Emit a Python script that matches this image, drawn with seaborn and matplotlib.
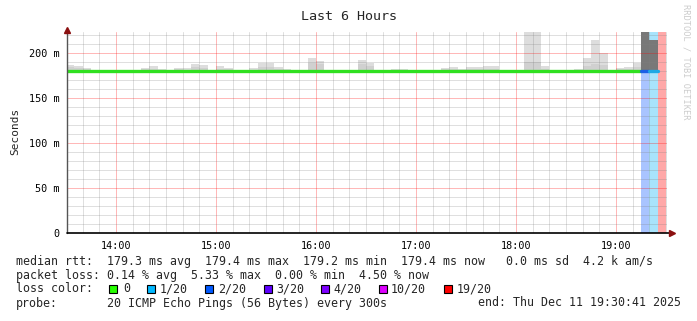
import numpy as np
import pandas as pd
import matplotlib
matplotlib.use("Agg")
import matplotlib.pyplot as plt
from matplotlib.patches import Rectangle
import seaborn as sns

# ---------------- data (5-minute bins starting 13:30) ----------------
bin_start_hours = [13.5 + i * 5 / 60 for i in range(72)]

smoke_hi = [186.7, 185, 183, 181, 181, 181, 181, 181, 180.5, 183,
            185, 182, 180.5, 183.3, 182.6, 187, 186, 180.5, 185, 183.3,
            180.5, 180.5, 182.6, 188.5, 188.5, 184.4, 182, 180.5, 180.5, 194.4,
            191, 180.5, 180.5, 180.5, 180.5, 192, 189, 180.5, 181, 182,
            182, 180.5, 180.5, 180.5, 180.5, 183, 184.4, 182, 184, 184,
            185, 185, 181, 181, 181, 230, 230, 185.5, 180.5, 180.5,
            180.5, 182, 194, 214, 200, 180.5, 183, 184, 189, np.nan,
            np.nan, np.nan]

smoke_mid = [184, 183, 181.5, 180.5, 180.5, 180.5, 180.5, 180.5, 180.5, 181.5,
             182.5, 181, 180.5, 181.5, 181, 184, 183.5, 180.5, 182.5, 181.5,
             180.5, 180.5, 181, 184.5, 184.5, 182, 181, 180.5, 180.5, 189,
             187.5, 180.5, 180.5, 180.5, 180.5, 187, 185.5, 180.5, 180.5, 181,
             181, 180.5, 180.5, 180.5, 180.5, 181.5, 182, 181, 181.5, 181.5,
             182, 182, 180.5, 180.5, 180.5, 190, 190, 182.5, 180.5, 180.5,
             180.5, 181, 185, 188, 186, 180.5, 181.5, 182, 184, np.nan,
             np.nan, np.nan]

dark_hi = [np.nan] * 69 + [230, 214.4, np.nan]

median_rtt = [179.3, 179.3, 179.3, 179.3, 179.2, 179.3, 179.3, 179.3, 179.3, 179.3,
              179.3, 179.3, 179.3, 179.3, 179.3, 179.3, 179.3, 179.3, 179.3, 179.3,
              179.3, 179.3, 179.3, 179.3, 179.4, 179.3, 179.3, 179.3, 179.3, 179.3,
              179.3, 179.3, 179.3, 179.3, 179.3, 179.3, 179.3, 179.3, 179.3, 179.3,
              179.3, 179.3, 179.3, 179.3, 179.3, 179.3, 179.3, 179.3, 179.3, 179.3,
              179.3, 179.3, 179.3, 179.3, 179.3, 179.3, 179.3, 179.3, 179.3, 179.3,
              179.3, 179.3, 179.3, 179.3, 179.3, 179.3, 179.3, 179.3, 179.3, 179.4,
              179.4, np.nan]

loss_count = [0] * 69 + [2, 1, 19]

loss_labels = ["0", "1/20", "2/20", "3/20", "4/20", "10/20", "19/20"]
loss_levels = [0, 1, 2, 3, 4, 10, 19]
loss_colors = ["#26ff00", "#00b8ff", "#0059ff", "#5e00ff", "#7e00ff", "#dd00ff", "#ff0000"]
loss_line_colors = {0: "#30e020", 1: "#1ea8e4", 2: "#1a5ee6"}
loss_bg_colors = {1: "#a8e4fc", 2: "#a9c4ff", 19: "#ffa8a8"}

xtick_hours = [14, 15, 16, 17, 18, 19]
xtick_labels = ["14:00", "15:00", "16:00", "17:00", "18:00", "19:00"]
ytick_values = [0, 50, 100, 150, 200]
ytick_labels = ["0", "50 m", "100 m", "150 m", "200 m"]

legend_line1 = "median rtt:  179.3 ms avg  179.4 ms max  179.2 ms min  179.4 ms now   0.0 ms sd  4.2 k am/s"
legend_line2 = "packet loss: 0.14 % avg  5.33 % max  0.00 % min  4.50 % now"
probe_text = "20 ICMP Echo Pings (56 Bytes) every 300s"
end_text = "end: Thu Dec 11 19:30:41 2025"

# ---------------- figure ----------------
sns.set_theme(style="white")
plt.rcParams["font.family"] = ["DejaVu Sans Mono", "DejaVu Sans"]

W, H = 697, 321
fig = plt.figure(figsize=(W / 100, H / 100), dpi=100)
fig.patch.set_facecolor("white")
ax_l, ax_r, ax_t, ax_b = 67, 667, 32, 233
ax = fig.add_axes([ax_l / W, 1 - ax_b / H, (ax_r - ax_l) / W, (ax_b - ax_t) / H])
ax.set_facecolor("white")

x_start = 13 + 30 / 60 + 41 / 3600
x_end = x_start + 6
ymax = 223
bw = 5 / 60

df = pd.DataFrame({"t": bin_start_hours, "hi": smoke_hi, "mid": smoke_mid,
                   "dark": dark_hi, "median": median_rtt, "loss": loss_count})

# loss background columns
for _, r in df[df["loss"] > 0].iterrows():
    ax.bar(r["t"], 400, bottom=0, width=bw, align="edge",
           color=loss_bg_colors[int(r["loss"])], linewidth=0, zorder=0.5)

# smoke (light and darker bands)
ok = df["hi"].notna()
ax.bar(df.loc[ok, "t"], df.loc[ok, "hi"] - df.loc[ok, "median"], bottom=df.loc[ok, "median"],
       width=bw, align="edge", color="#dddddd", linewidth=0, zorder=1)
ax.bar(df.loc[ok, "t"], df.loc[ok, "mid"] - df.loc[ok, "median"], bottom=df.loc[ok, "median"],
       width=bw, align="edge", color="#d0d0d0", linewidth=0, zorder=1.1)
okd = df["dark"].notna()
ax.bar(df.loc[okd, "t"], df.loc[okd, "dark"] - df.loc[okd, "median"], bottom=df.loc[okd, "median"],
       width=bw, align="edge", color="#787878", linewidth=0, zorder=1.2)

# median line, coloured by loss, in contiguous segments
seg_start = 0
valid = df["median"].notna().values
for i in range(1, len(df) + 1):
    if i == len(df) or df["loss"].iat[i] != df["loss"].iat[seg_start] or not valid[i]:
        if valid[seg_start]:
            seg = df.iloc[seg_start:i]
            xs = list(seg["t"]) + [seg["t"].iat[-1] + bw]
            ys = list(seg["median"]) + [seg["median"].iat[-1]]
            sns.lineplot(x=xs, y=ys, ax=ax, drawstyle="steps-post", estimator=None,
                         sort=False, color=loss_line_colors[int(seg["loss"].iat[0])],
                         linewidth=2.4, zorder=3)
        seg_start = i

ax.set_xlim(x_start, x_end)
ax.set_ylim(0, ymax)

# grid
ax.set_xticks(xtick_hours)
ax.set_xticklabels(xtick_labels)
ax.set_xticks([13 + 40 / 60 + k / 6 for k in range(36)], minor=True)
ax.set_yticks(ytick_values)
ax.set_yticklabels(ytick_labels)
ax.set_yticks(list(range(10, 230, 10)), minor=True)
ax.set_axisbelow(False)
ax.grid(which="minor", color="#808080", alpha=0.25, linewidth=0.72)
ax.grid(which="major", color="#ff0000", alpha=0.28, linewidth=0.72)
ax.tick_params(which="both", direction="out", length=2.5, width=0.7, color="#555555",
               labelsize=7.3, labelcolor="#000000")
ax.tick_params(axis="x", which="major", pad=3)
ax.tick_params(axis="y", which="major", pad=3)
for s in ax.spines.values():
    s.set_visible(False)

# axes lines with arrows
ax.plot([0, 0], [0, 1.0], transform=ax.transAxes, color="#555555", lw=1.0, clip_on=False, zorder=4)
ax.plot([0, 1.005], [0, 0], transform=ax.transAxes, color="#000000", lw=1.2, clip_on=False, zorder=4)
ax.plot([0], [1.01], transform=ax.transAxes, marker="^", markersize=4, color="#8b1010",
        clip_on=False, zorder=5, linestyle="none")
ax.plot([1.009], [0], transform=ax.transAxes, marker=">", markersize=4, color="#8b1010",
        clip_on=False, zorder=5, linestyle="none")

# titles and labels
def ftxt(x, y, s, **kw):
    fig.text(x / W, 1 - y / H, s, **kw)

ftxt(349, 16, "Last 6 Hours", ha="center", va="center", fontsize=9.6)
ftxt(15, 131, "Seconds", ha="center", va="center", rotation=90, fontsize=8)
ftxt(686, 4, "RRDTOOL / TOBI OETIKER", ha="center", va="top", rotation=270,
     fontsize=6.2, color="#cccccc")

fs = 8.4
ftxt(16, 261, legend_line1, ha="left", va="center", fontsize=fs)
ftxt(16, 275, legend_line2, ha="left", va="center", fontsize=fs)
ftxt(16, 289, "loss color:", ha="left", va="center", fontsize=fs)
box_x = [109, 147, 205, 264, 321, 379, 444]
txt_x = [123, 160, 218, 276, 333, 391, 457]
for bx, tx, lab, col in zip(box_x, txt_x, loss_labels, loss_colors):
    fig.patches.append(Rectangle((bx / W, 1 - 293 / H), 8 / W, 8 / H, transform=fig.transFigure,
                                 facecolor=col, edgecolor="black", linewidth=0.8))
    ftxt(tx, 289, lab, ha="left", va="center", fontsize=fs)
ftxt(16, 303, "probe:", ha="left", va="center", fontsize=fs)
ftxt(107, 303, probe_text, ha="left", va="center", fontsize=fs)
ftxt(478, 303, end_text, ha="left", va="center", fontsize=fs)

fig.savefig("out.png", dpi=100, facecolor="white")
